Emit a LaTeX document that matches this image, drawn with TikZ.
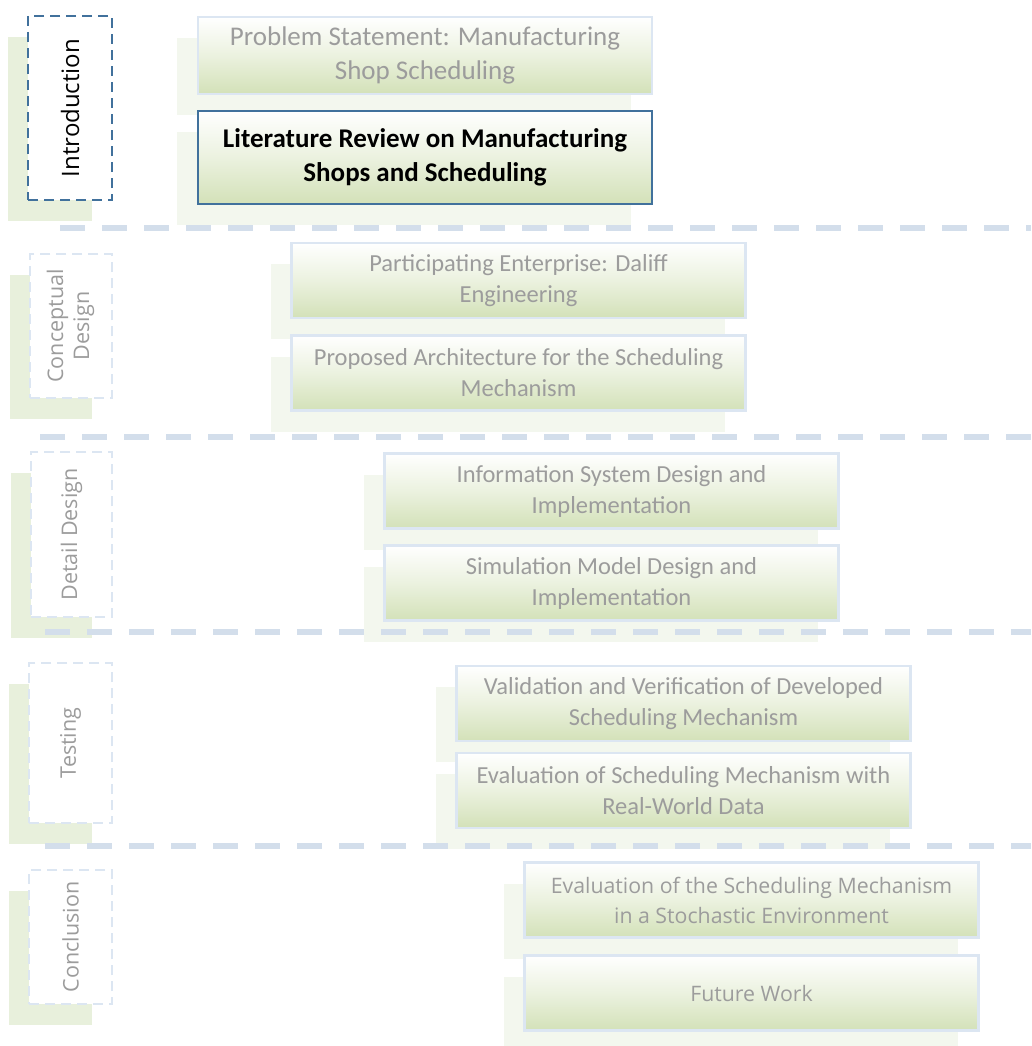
\documentclass[tikz,border=0pt]{standalone}
\usepackage{fontspec}
\setmainfont{Carlito}
\newfontfamily\labelfont{Open Sans}
\begin{document}
\definecolor{paleline}{HTML}{DCE6F2}
\definecolor{sepline}{HTML}{D3DEEB}
\definecolor{darkline}{HTML}{41719C}
\definecolor{leafgreen}{HTML}{D3E1B8}
\definecolor{shadowgreen}{HTML}{F3F7EE}
\definecolor{tabgreen}{HTML}{E8F0DC}
\definecolor{softtext}{HTML}{9C9C9C}
\begin{tikzpicture}[x=1pt,y=-1pt,
  stepbox/.style={draw=paleline, line width=2.5pt,
    top color=white, bottom color=leafgreen, middle color=leafgreen!45,
    minimum width=454pt, minimum height=75pt, align=center,
    text=softtext, font=\fontsize{24.5}{31}\selectfont,
    preaction={draw=none, fill=shadowgreen,
      transform canvas={shift={(-21pt,-21pt)}}}},
  tab/.style={draw=paleline, line width=2.5pt, dashed, dash pattern=on 10pt off 6pt,
    fill=white, align=center, text=softtext,
    font=\labelfont\fontsize{21.5}{25}\selectfont,
    preaction={draw=none, fill=tabgreen,
      transform canvas={shift={(-20pt,-21pt)}}}},
  separator/.style={draw=sepline, line width=6pt, dash pattern=on 25pt off 17pt}
]
\useasboundingbox (0,0) rectangle (1031,1046);

% side tabs, one per chapter group
\node[tab, draw=darkline, minimum width=84pt, minimum height=184pt, text=black,
      font=\labelfont\fontsize{24}{28}\selectfont] (intro) at (70,108)
      {\rotatebox{90}{Introduction}};
\node[tab, minimum width=82pt, minimum height=144pt] (concept) at (71,326)
      {\rotatebox{90}{\begin{tabular}{@{}c@{}}Conceptual\\[1pt]Design\end{tabular}}};
\node[tab, minimum width=81pt, minimum height=165pt] (detail) at (71.5,534.5)
      {\rotatebox{90}{Detail Design}};
\node[tab, minimum width=83pt, minimum height=160pt] (testing) at (70.5,743)
      {\rotatebox{90}{Testing}};
\node[tab, minimum width=83pt, minimum height=134pt] (concl) at (70.5,937)
      {\rotatebox{90}{Conclusion}};

% chapter boxes
\node[stepbox, minimum height=77pt, font=\fontsize{27}{34}\selectfont] (problem) at (425,55.5)
      {Problem Statement: Manufacturing\\Shop Scheduling};
\node[stepbox, draw=darkline, minimum height=93pt, text=black,
      font=\bfseries\fontsize{27}{34}\selectfont] (litrev) at (425,157.5)
      {Literature Review on Manufacturing\\Shops and Scheduling};

\node[stepbox] (daliff) at (518.5,280.5)
      {Participating Enterprise: Daliff\\Engineering};
\node[stepbox] (arch) at (518.5,373)
      {Proposed Architecture for the Scheduling\\Mechanism};

\node[stepbox] (infosys) at (611.5,491)
      {Information System Design and\\Implementation};
\node[stepbox] (simmodel) at (611.5,583)
      {Simulation Model Design and\\Implementation};

\node[stepbox] (valid) at (683.5,703.5)
      {Validation and Verification of Developed\\Scheduling Mechanism};
\node[stepbox] (realdata) at (683.5,790.5)
      {Evaluation of Scheduling Mechanism with\\Real-World Data};

\node[stepbox, font=\labelfont\fontsize{21.3}{30}\selectfont] (stoch) at (751.5,900)
      {Evaluation of the Scheduling Mechanism\\in a Stochastic Environment};
\node[stepbox, font=\labelfont\fontsize{21.3}{30}\selectfont] (future) at (751.5,993)
      {Future Work};

% dashed separators between the groups
\coordinate (s1a) at (60,228);  \coordinate (s1b) at (1031,228);
\coordinate (s2a) at (40,437);  \coordinate (s2b) at (1031,437);
\coordinate (s3a) at (45,632);  \coordinate (s3b) at (1031,632);
\coordinate (s4a) at (45,846);  \coordinate (s4b) at (1031,846);
\draw[separator] (s1a) -- (s1b);
\draw[separator] (s2a) -- (s2b);
\draw[separator] (s3a) -- (s3b);
\draw[separator] (s4a) -- (s4b);
\end{tikzpicture}
\end{document}
